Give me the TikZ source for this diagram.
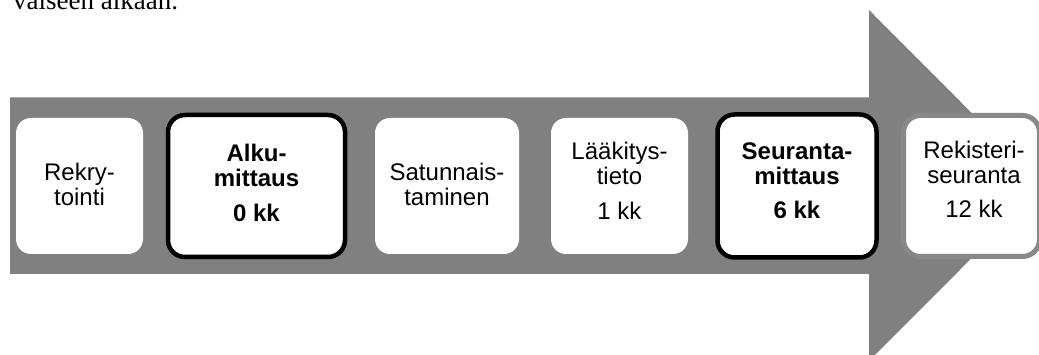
\documentclass[tikz,border=0pt]{standalone}
\usepackage{fontspec}
\setmainfont{Liberation Sans}
\newfontfamily\serifpart{Liberation Serif}
\definecolor{arrowgray}{RGB}{128,128,128}
\definecolor{rimgray}{RGB}{136,136,136}
\begin{document}
\begin{tikzpicture}[x=1pt,y=-1pt,
  plainbox/.style={rectangle, fill=white, draw=none, rounded corners=15pt, inner sep=0pt},
  keybox/.style={rectangle, fill=white, draw=black, line width=4.5pt, rounded corners=17pt, inner sep=0pt},
  endbox/.style={rectangle, fill=white, draw=rimgray, line width=5pt, rounded corners=17pt, inner sep=0pt},
  lbl/.style={anchor=base, inner sep=0pt, font=\fontsize{24}{25}\selectfont},
  boldlbl/.style={anchor=base, inner sep=0pt, font=\fontsize{24}{25}\selectfont\bfseries}]
\useasboundingbox (0,0) rectangle (1039,355);
% caption fragment, cut at the top edge as in the reference
\node[anchor=base west, inner sep=0pt, font=\serifpart\fontsize{27}{30}\selectfont] (caption) at (13,10) {vaiseen aikaan.};
% big arrow
\fill[arrowgray] (10,97.3) -- (869,97.3) -- (869,10) -- (1044,185.5) -- (869,361) -- (869,274) -- (10,274) -- cycle;
% boxes
\node[plainbox, minimum width=127pt, minimum height=136pt] (b1) at (79.5,186) {};
\node[keybox,   minimum width=177pt, minimum height=142pt] (b2) at (256.5,186) {};
\node[plainbox, minimum width=144pt, minimum height=136pt] (b3) at (447,186) {};
\node[plainbox, minimum width=137pt, minimum height=136pt] (b4) at (619.5,186) {};
\node[keybox,   minimum width=159pt, minimum height=143pt] (b5) at (797,186) {};
\node[endbox,   minimum width=136pt, minimum height=141pt] (b6) at (971.5,186) {};
% labels
\node[lbl] (t1) at (79.5,181) {\begin{tabular}[t]{@{}c@{}}Rekry-\\tointi\end{tabular}};
\node[boldlbl] (t2) at (256.5,162) {\begin{tabular}[t]{@{}c@{}}Alku-\\mittaus\\[9.5pt]0 kk\end{tabular}};
\node[lbl] (t3) at (447,181) {\begin{tabular}[t]{@{}c@{}}Satunnais-\\taminen\end{tabular}};
\node[lbl] (t4) at (619.5,160) {\begin{tabular}[t]{@{}c@{}}Lääkitys-\\tieto\\[9.5pt]1 kk\end{tabular}};
\node[boldlbl] (t5) at (797,159.5) {\begin{tabular}[t]{@{}c@{}}Seuranta-\\mittaus\\[9.5pt]6 kk\end{tabular}};
\node[lbl] (t6) at (974,158.5) {\begin{tabular}[t]{@{}c@{}}Rekisteri-\\seuranta\\[9.5pt]12 kk\end{tabular}};
\end{tikzpicture}
\end{document}
